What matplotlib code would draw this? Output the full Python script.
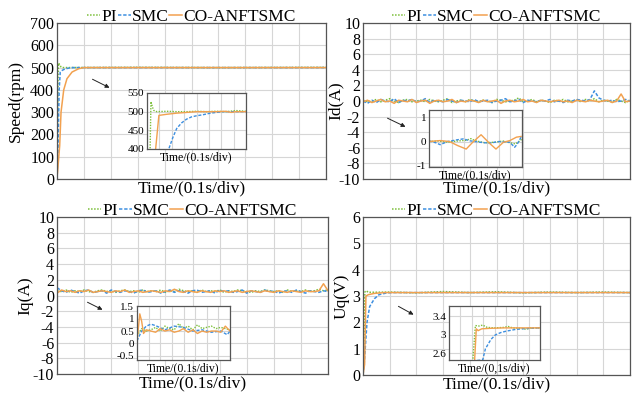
"""Four-panel PMSM controller comparison (speed, Id, Iq, Uq) -> out.png."""
import numpy as np
import matplotlib
matplotlib.use('Agg')
import matplotlib.pyplot as plt
from matplotlib.ticker import FormatStrFormatter

plt.rcParams['font.family'] = ['Liberation Serif', 'DejaVu Serif']
plt.rcParams['axes.unicode_minus'] = False

# ---- data ----
series_names = ['PI', 'SMC', 'CO-ANFTSMC']

# speed, main view (time in s)
spd_pi_t = [0, 0.002, 0.004, 0.006, 0.01, 0.015, 0.02, 0.3, 0.6, 1.0]
spd_pi_v = [0, 250, 470, 520, 512, 503, 500, 501, 500, 501]
spd_smc_t = [0, 0.004, 0.008, 0.012, 0.02, 0.03, 0.045, 0.056, 1.0]
spd_smc_v = [0, 150, 400, 480, 488, 494, 498, 500, 500]
spd_co_t = [0, 0.002, 0.01, 0.015, 0.025, 0.037, 0.056, 0.081, 0.1, 1.0]
spd_co_v = [10, 30, 150, 300, 400, 450, 480, 495, 500, 500]
# speed, inset (normalised time)
spd_in_pi_t = [0, 0.03, 0.04, 0.055, 0.07, 0.1, 0.2, 0.3, 0.4, 0.5, 0.6, 0.7, 0.8, 0.9, 1.0]
spd_in_pi_v = [380, 380, 527, 512, 503, 500, 501, 500, 500, 501, 500, 501, 500, 503, 501]
spd_in_smc_t = [0, 0.2, 0.22, 0.26, 0.3, 0.35, 0.4, 0.45, 0.5, 0.57, 0.64, 0.7, 0.77, 0.85, 1.0]
spd_in_smc_v = [380, 380, 400, 430, 455, 470, 480, 486, 489, 492, 496, 498, 500, 500, 500]
spd_in_co_t = [0, 0.08, 0.12, 0.2, 0.3, 0.4, 0.5, 0.6, 0.7, 0.8, 0.85, 0.9, 1.0]
spd_in_co_v = [380, 380, 490, 493, 496, 498, 500, 500, 500, 501, 498, 500, 500]

# Id, main view (evenly sampled over 1 s)
id_pi = [0.1, -0.1, 0.0, 0.2, -0.1, 0.1, 0.3, 0.0, -0.2, 0.1, 0.2, -0.1, 0.0, 0.1, -0.1,
         0.2, 0.0, -0.1, 0.1, 0.3, -0.2, 0.0, 0.1, -0.1, 0.2, 0.0, -0.1, 0.1, 0.0, -0.2,
         0.2, 0.1, -0.1, 0.0, 0.1, 0.4, -0.1, 0.0, 0.2, -0.1, 0.1, 0.0, -0.2, 0.1, 0.0,
         0.2, -0.1, 0.0, 0.1, -0.1, 0.2, 0.0, 0.3, -0.1, 0.1, 0.0, -0.1, 0.2, 0.0, -0.2, 0.1]
id_smc = [0.0, -0.3, 0.1, -0.2, 0.2, 0.0, -0.1, 0.3, -0.2, 0.1, 0.0, 0.2, -0.1, 0.0, 0.3,
          -0.2, 0.1, 0.0, -0.1, 0.2, 0.0, -0.2, 0.1, 0.0, -0.1, 0.2, -0.1, 0.0, 0.1, -0.2,
          0.0, 0.1, 0.3, -0.1, 0.0, 0.2, -0.2, 0.1, 0.0, -0.1, 0.1, 0.0, 0.2, -0.1, 0.0,
          -0.2, 0.1, 0.0, 0.2, 0.1, 0.0, 0.2, 1.3, 0.4, 0.1, 0.0, 0.1, -0.1, 0.0, 0.2, 0.0]
id_co = [-0.1, 0.1, -0.2, 0.0, 0.2, -0.1, 0.0, -0.3, 0.1, 0.0, -0.1, 0.2, -0.2, 0.0, 0.1,
         -0.3, 0.0, 0.1, -0.1, 0.0, 0.2, -0.2, 0.0, -0.1, 0.1, 0.0, -0.2, 0.1, -0.1, 0.0,
         0.1, -0.3, 0.0, 0.1, -0.1, 0.0, 0.2, -0.1, 0.0, -0.2, 0.1, 0.0, -0.1, 0.0, 0.1,
         -0.1, 0.0, -0.2, 0.1, 0.0, -0.1, 0.1, 0.0, -0.1, 0.0, 0.1, -0.2, 0.0, 0.9, -0.1, 0.0]
# Id, inset
id_in_pi_t = [0, 0.1, 0.2, 0.3, 0.4, 0.45, 0.5, 0.6, 0.7, 0.8, 0.87, 0.93, 1.0]
id_in_pi_v = [0.0, 0.02, -0.03, 0.02, 0.05, 0.12, 0.03, -0.05, -0.03, 0.02, -0.05, -0.1, 0.1]
id_in_smc_t = [0, 0.08, 0.12, 0.2, 0.3, 0.37, 0.44, 0.55, 0.65, 0.75, 0.87, 0.92, 0.95, 0.99]
id_in_smc_v = [0.03, -0.06, -0.13, 0.0, 0.07, 0.11, 0.03, -0.03, -0.07, 0.0, -0.03, -0.24, -0.1, 0.18]
id_in_co_t = [0, 0.12, 0.22, 0.31, 0.4, 0.47, 0.56, 0.65, 0.72, 0.8, 0.87, 0.94, 0.99]
id_in_co_v = [0.0, 0.04, 0.0, -0.17, -0.31, -0.03, 0.28, -0.07, -0.31, -0.03, 0.04, 0.18, 0.21]

# Iq, main view
iq_pi = [0.6, 0.5, 0.7, 0.4, 0.6, 0.5, 0.7, 0.5, 0.4, 0.6, 0.7, 0.5, 0.6, 0.4, 0.6,
         0.7, 0.5, 0.6, 0.4, 0.7, 0.5, 0.6, 0.5, 0.7, 0.4, 0.6, 0.5, 0.8, 0.6, 0.5,
         0.6, 0.4, 0.7, 0.5, 0.6, 0.5, 0.7, 0.4, 0.6, 0.5, 0.7, 0.6, 0.5, 0.4, 0.6,
         0.5, 0.7, 0.6, 0.5, 0.6, 0.4, 0.7, 0.5, 0.6, 0.5, 0.7, 0.5, 0.6, 0.8, 0.6, 0.7]
iq_smc = [1.0, 0.6, 0.4, 0.7, 0.5, 0.3, 0.6, 0.7, 0.4, 0.5, 0.6, 0.3, 0.7, 0.5, 0.4,
          0.6, 0.5, 0.3, 0.6, 0.7, 0.4, 0.5, 0.6, 0.3, 0.5, 0.7, 0.4, 0.6, 0.5, 0.3,
          0.6, 0.7, 0.4, 0.5, 0.6, 0.3, 0.7, 0.5, 0.6, 0.4, 0.5, 0.7, 0.3, 0.6, 0.5,
          0.4, 0.7, 0.5, 0.6, 0.3, 0.5, 0.6, 0.4, 0.7, 0.5, 0.3, 0.6, 0.5, 0.4, 0.6, 0.5]
iq_co = [0.3, 0.7, 0.5, 0.6, 0.4, 0.6, 0.5, 0.7, 0.4, 0.5, 0.6, 0.5, 0.4, 0.6, 0.5,
         0.7, 0.4, 0.5, 0.6, 0.4, 0.5, 0.6, 0.5, 0.4, 0.6, 0.5, 0.8, 0.5, 0.4, 0.6,
         0.5, 0.4, 0.6, 0.5, 0.4, 0.6, 0.5, 0.6, 0.4, 0.5, 0.6, 0.4, 0.5, 0.6, 0.5,
         0.4, 0.6, 0.5, 0.4, 0.6, 0.5, 0.4, 0.6, 0.5, 0.4, 0.6, 0.5, 0.5, 0.6, 1.5, 0.6]
# Iq, inset
iq_in_pi_t = [0, 0.05, 0.1, 0.15, 0.2, 0.25, 0.3, 0.35, 0.4, 0.45, 0.5, 0.55, 0.6, 0.65,
              0.7, 0.75, 0.8, 0.85, 0.9, 0.95, 1.0]
iq_in_pi_v = [0.3, 0.6, 0.5, 0.55, 0.65, 0.5, 0.7, 0.6, 0.55, 0.8, 0.6, 0.7, 0.55, 0.75,
              0.6, 0.65, 0.7, 0.6, 0.65, 0.6, 0.55]
iq_in_smc_t = [0, 0.05, 0.1, 0.15, 0.2, 0.3, 0.4, 0.5, 0.6, 0.7, 0.8, 0.9, 0.97, 1.0]
iq_in_smc_v = [0.1, 0.5, 0.7, 0.78, 0.72, 0.55, 0.7, 0.65, 0.5, 0.55, 0.45, 0.5, 0.35, 0.5]
iq_in_co_t = [0, 0.03, 0.05, 0.07, 0.1, 0.15, 0.2, 0.25, 0.3, 0.35, 0.4, 0.45, 0.5, 0.55,
              0.6, 0.65, 0.7, 0.75, 0.8, 0.85, 0.9, 0.95, 1.0]
iq_in_co_v = [0.05, 1.2, 0.9, 0.4, 0.55, 0.5, 0.45, 0.6, 0.5, 0.55, 0.45, 0.5, 0.6, 0.45,
              0.55, 0.4, 0.5, 0.45, 0.5, 0.5, 0.45, 0.7, 0.5]

# Uq, main view
uq_pi_t = [0, 0.004, 0.007, 0.012, 0.02, 0.1, 0.2, 0.3, 0.4, 0.5, 0.6, 0.7, 0.8, 0.9, 1.0]
uq_pi_v = [0, 1.5, 3.15, 3.2, 3.14, 3.15, 3.12, 3.17, 3.13, 3.16, 3.12, 3.15, 3.13, 3.15, 3.13]
uq_smc_t = [0, 0.005, 0.015, 0.025, 0.043, 0.06, 0.09, 0.12, 1.0]
uq_smc_v = [0, 0.5, 2.0, 2.6, 2.9, 3.05, 3.12, 3.13, 3.13]
uq_co_t = [0, 0.006, 0.009, 0.011, 0.02, 0.043, 0.08, 1.0]
uq_co_v = [0, 0.4, 2.0, 3.0, 3.05, 3.1, 3.13, 3.13]
# Uq, inset
uq_in_pi_t = [0, 0.26, 0.29, 0.33, 0.37, 0.42, 0.5, 0.6, 0.65, 0.7, 0.8, 0.85, 0.9, 1.0]
uq_in_pi_v = [2.4, 2.4, 3.2, 3.19, 3.21, 3.16, 3.15, 3.16, 3.18, 3.15, 3.14, 3.12, 3.15, 3.15]
uq_in_smc_t = [0, 0.37, 0.4, 0.46, 0.51, 0.57, 0.63, 0.74, 0.88, 1.0]
uq_in_smc_v = [2.4, 2.46, 2.7, 2.9, 3.0, 3.05, 3.08, 3.12, 3.14, 3.15]
uq_in_co_t = [0, 0.28, 0.3, 0.32, 0.36, 0.45, 0.6, 0.8, 1.0]
uq_in_co_v = [2.4, 2.4, 3.13, 3.09, 3.13, 3.14, 3.15, 3.15, 3.15]

# ---- style ----
colors = ['#7cbf3a', '#3d8fe0', '#f2a14f']
styles = [(0, (1, 1)), (0, (2.2, 1.2)), '-']
grid_c = '#d6d6d6'
spine_c = '#555555'

fig = plt.figure(figsize=(6.32, 3.98), dpi=100)
W, H = 632, 398


def px_axes(x0, y0, x1, y1):
    return fig.add_axes([x0 / W, 1 - y1 / H, (x1 - x0) / W, (y1 - y0) / H])


def style_axes(ax, yticks, ylim, fs, xdiv=10):
    ax.set_xlim(0, 1)
    ax.set_ylim(*ylim)
    ax.set_xticks(np.linspace(0, 1, xdiv + 1))
    ax.set_xticklabels([])
    ax.set_yticks(yticks)
    ax.yaxis.set_major_formatter(FormatStrFormatter('%g'))
    ax.grid(True, color=grid_c, lw=0.8)
    ax.set_axisbelow(True)
    ax.tick_params(length=0, labelsize=fs, pad=2)
    for s in ax.spines.values():
        s.set_color(spine_c)
        s.set_linewidth(0.9)


def draw(ax, data, lw):
    for (t, v), c, ls, name in zip(data, colors, styles, series_names):
        ax.plot(t, v, color=c, ls=ls, lw=lw, label=name)


def even(v):
    return np.linspace(0, 1, len(v)), v


panels = [
    dict(box=(57, 23, 326, 179), ylabel='Speed(rpm)', ylim=(0, 700), yticks=range(0, 701, 100),
         data=[(spd_pi_t, spd_pi_v), (spd_smc_t, spd_smc_v), (spd_co_t, spd_co_v)],
         ins_box=(147, 93, 246, 149), ins_ylim=(400, 550), ins_yticks=[400, 450, 500, 550],
         ins_data=[(spd_in_pi_t, spd_in_pi_v), (spd_in_smc_t, spd_in_smc_v), (spd_in_co_t, spd_in_co_v)],
         ins_label='Time/(0.1s/div)', arrow=((90, 78), (112, 89)), ylab_x=-0.123),
    dict(box=(363, 23, 630, 179), ylabel='Id(A)', ylim=(-10, 10), yticks=range(-10, 11, 2),
         data=[even(id_pi), even(id_smc), even(id_co)],
         ins_box=(429, 110, 522, 167), ins_ylim=(-1.05, 1.3), ins_yticks=[-1, 0, 1],
         ins_data=[(id_in_pi_t, id_in_pi_v), (id_in_smc_t, id_in_smc_v), (id_in_co_t, id_in_co_v)],
         ins_label='Time/(0.1s/div)', arrow=((385, 117), (408, 128)), ylab_x=-0.071),
    dict(box=(57, 217, 328, 374), ylabel='Iq(A)', ylim=(-10, 10), yticks=range(-10, 11, 2),
         data=[even(iq_pi), even(iq_smc), even(iq_co)],
         ins_box=(137, 306, 230, 360), ins_ylim=(-0.68, 1.52), ins_yticks=[-0.5, 0, 0.5, 1, 1.5],
         ins_data=[(iq_in_pi_t, iq_in_pi_v), (iq_in_smc_t, iq_in_smc_v), (iq_in_co_t, iq_in_co_v)],
         ins_label='Time/(0.1s/div)', arrow=((85, 301), (105, 311)), ylab_x=-0.089),
    dict(box=(363, 217, 630, 375), ylabel='Uq(V)', ylim=(0, 6), yticks=range(0, 7),
         data=[(uq_pi_t, uq_pi_v), (uq_smc_t, uq_smc_v), (uq_co_t, uq_co_v)],
         ins_box=(449, 306, 540, 360), ins_ylim=(2.46, 3.62), ins_yticks=[2.6, 3, 3.4],
         ins_data=[(uq_in_pi_t, uq_in_pi_v), (uq_in_smc_t, uq_in_smc_v), (uq_in_co_t, uq_in_co_v)],
         ins_label='Time/(0,1s/div)', arrow=((396, 305), (416, 316)), ylab_x=-0.052),
]

for p in panels:
    ax = px_axes(*p['box'])
    style_axes(ax, p['yticks'], p['ylim'], 11.5)
    draw(ax, p['data'], 1.1)
    ax.set_ylabel(p['ylabel'], fontsize=12.5, labelpad=0)
    ax.yaxis.set_label_coords(p['ylab_x'], 0.5)
    ax.set_xlabel('Time/(0.1s/div)', fontsize=12.5, labelpad=-1)
    ax.legend(loc='lower center', bbox_to_anchor=(0.5, 0.985), ncol=3, frameon=False,
              fontsize=12.5, handlelength=0.75, handletextpad=0.05, columnspacing=0.05,
              borderpad=0, borderaxespad=0)

    ins = px_axes(*p['ins_box'])
    style_axes(ins, p['ins_yticks'], p['ins_ylim'], 8, xdiv=8)
    draw(ins, p['ins_data'], 1.0)
    ins.set_xlabel(p['ins_label'], fontsize=8.5, labelpad=0)

    (x0, y0), (x1, y1) = p['arrow']
    fig.add_artist(matplotlib.patches.FancyArrowPatch(
        (x0 / W, 1 - y0 / H), (x1 / W, 1 - y1 / H), transform=fig.transFigure,
        arrowstyle='-|>', mutation_scale=6, lw=0.7, color='#222222'))

fig.savefig('out.png', dpi=100)
